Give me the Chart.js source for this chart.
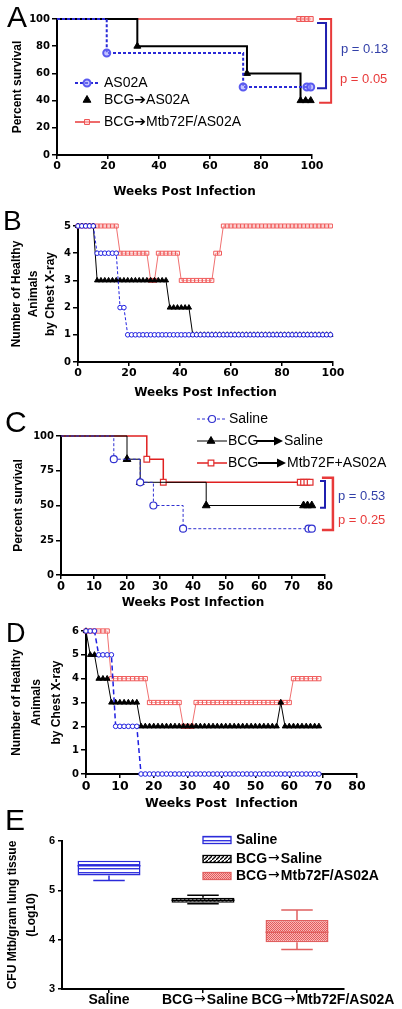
<!DOCTYPE html>
<html>
<head>
<meta charset="utf-8">
<title>Survival, chest X-ray and CFU</title>
<script src="https://cdn.jsdelivr.net/npm/chart.js@4"></script>
<style>
  body { margin: 0; background: #fff; }
  #fig { position: relative; width: 402px; height: 1009px; overflow: hidden; }
  #fig canvas { position: absolute; left: 0; }
</style>
</head>
<body>
<div id="fig">
  <canvas id="chartA" width="402" height="205" style="top:0px"></canvas>
  <canvas id="chartB" width="402" height="205" style="top:200px"></canvas>
  <canvas id="chartC" width="402" height="210" style="top:405px"></canvas>
  <canvas id="chartD" width="402" height="200" style="top:612px"></canvas>
  <canvas id="chartE" width="402" height="201" style="top:808px"></canvas>
</div>
<script>
// ---- A: percent survival (Kaplan-Meier), weeks post infection
var aWeeksAS02A = [0, 19.5, 73, 98, 99.5];
var aPctAS02A   = [100, 75, 50, 50, 50];
var aWeeksBcg   = [0, 31.5, 74.5, 95.5, 97.5, 99.5];
var aPctBcg     = [100, 80, 60, 40, 40, 40];
var aWeeksMtb   = [0, 95, 96.5, 98, 99.5];
var aPctMtb     = [100, 100, 100, 100, 100];

// ---- B: healthy animals by chest X-ray
var bWeeks = [0,1.5,3,4.5,6,7.5,9,10.5,12,13.5,15,16.5,18,19.5,21,22.5,24,25.5,27,28.5,
              30,31.5,33,34.5,36,37.5,39,40.5,42,43.5,45,46.5,48,49.5,51,52.5,54,55.5,57,58.5,
              60,61.5,63,64.5,66,67.5,69,70.5,72,73.5,75,76.5,78,79.5,81,82.5,84,85.5,87,88.5,
              90,91.5,93,94.5,96,97.5,99];
var bAS02A = [5,5,5,5,5,4,4,4,4,4,4,2,2,1,1,1,1,1,1,1,
              1,1,1,1,1,1,1,1,1,1,1,1,1,1,1,1,1,1,1,1,
              1,1,1,1,1,1,1,1,1,1,1,1,1,1,1,1,1,1,1,1,
              1,1,1,1,1,1,1];
var bBcg   = [5,5,5,5,5,3,3,3,3,3,3,3,3,3,3,3,3,3,3,3,
              3,3,3,3,2,2,2,2,2,2,1,1,1,1,1,1,1,1,1,1,
              1,1,1,1,1,1,1,1,1,1,1,1,1,1,1,1,1,1,1,1,
              1,1,1,1,1,1,1];
var bMtb   = [5,5,5,5,5,5,5,5,5,5,5,4,4,4,4,4,4,4,4,3,
              3,4,4,4,4,4,4,3,3,3,3,3,3,3,3,3,4,4,5,5,
              5,5,5,5,5,5,5,5,5,5,5,5,5,5,5,5,5,5,5,5,
              5,5,5,5,5,5,5];

// ---- C: percent survival, second study
var cWeeksSal    = [0, 16, 24, 28, 37, 75, 76];
var cPctSal      = [100, 83.3, 66.7, 50, 33.3, 33.3, 33.3];
var cWeeksBcgSal = [0, 20, 24, 44, 73.5, 74.7, 76];
var cPctBcgSal   = [100, 83.3, 66.7, 50, 50, 50, 50];
var cWeeksMtb    = [0, 26, 31, 72.5, 73.5, 74.5, 75.5];
var cPctMtb      = [100, 83.3, 66.7, 66.7, 66.7, 66.7, 66.7];

// ---- D: healthy animals by chest X-ray, second study
var dWeeks = [0,1.25,2.5,3.75,5,6.25,7.5,8.75,10,11.25,12.5,13.75,15,16.25,17.5,18.75,20,21.25,22.5,23.75,
              25,26.25,27.5,28.75,30,31.25,32.5,33.75,35,36.25,37.5,38.75,40,41.25,42.5,43.75,45,46.25,47.5,48.75,
              50,51.25,52.5,53.75,55,56.25,57.5,58.75,60,61.25,62.5,63.75,65,66.25,67.5,68.75];
var dSaline = [6,6,6,5,5,5,5,2,2,2,2,2,2,0,0,0,0,0,0,0,
               0,0,0,0,0,0,0,0,0,0,0,0,0,0,0,0,0,0,0,0,
               0,0,0,0,0,0,0,0,0,0,0,0,0,0,0,0];
var dBcgSal = [6,5,5,4,4,4,3,3,3,3,3,3,3,2,2,2,2,2,2,2,
               2,2,2,2,2,2,2,2,2,2,2,2,2,2,2,2,2,2,2,2,
               2,2,2,2,2,2,3,2,2,2,2,2,2,2,2,2];
var dMtb    = [6,6,6,6,6,6,4,4,4,4,4,4,4,4,4,3,3,3,3,3,
               3,3,3,2,2,2,3,3,3,3,3,3,3,3,3,3,3,3,3,3,
               3,3,3,3,3,3,3,3,3,4,4,4,4,4,4,4];

// ---- E: lung CFU box plots (log10)
var eGroups = ['Saline', 'BCG\u2192Saline', 'BCG\u2192Mtb72F/AS02A'];
var eMin = [5.2, 4.73, 3.8];
var eQ1  = [5.3, 4.75, 3.95];
var eMed = [5.5, 4.8, 4.15];
var eQ3  = [5.6, 4.85, 4.4];
var eMax = [5.6, 4.9, 4.6];

var SANS = "'Liberation Sans', Arial, sans-serif";
var WIDE = "'DejaVu Sans', Verdana, sans-serif";
var BLUE = '#2a2ad6', RED = '#e83a3a';

Chart.defaults.font.family = SANS;
Chart.defaults.color = '#000';

function pts(xs, ys) {
  return xs.map(function (x, i) { return { x: x, y: ys[i] }; });
}
// no marker on the starting point of a survival curve
function kmRadius(r) {
  return function (ctx) { return ctx.dataIndex === 0 ? 0 : r; };
}

function yAxis(min, max, step, width, tickSize, title) {
  return {
    type: 'linear', min: min, max: max,
    border: { color: '#000', width: 2 },
    grid: { drawOnChartArea: false, color: '#000', lineWidth: 1.5, tickLength: 5 },
    ticks: { stepSize: step, color: '#000', padding: 2, font: { family: WIDE, weight: 'bold', size: tickSize } },
    title: title,
    afterFit: function (s) { s.width = width; }
  };
}
function xAxis(min, max, step, height, tickSize, title) {
  return {
    type: 'linear', min: min, max: max,
    border: { color: '#000', width: 2 },
    grid: { drawOnChartArea: false, color: '#000', lineWidth: 1.5, tickLength: 4 },
    ticks: { stepSize: step, color: '#000', padding: 1, maxRotation: 0, font: { family: WIDE, weight: 'bold', size: tickSize } },
    title: title,
    afterFit: function (s) { s.height = height; }
  };
}
function yTitle(text, size, lh, padTop) {
  return { display: true, text: text, color: '#000', padding: { top: padTop, bottom: 0 },
           font: { family: SANS, weight: 'bold', size: size, lineHeight: lh + 'px' } };
}
function xTitle(text, size, padBottom) {
  return { display: true, text: text, color: '#000', padding: { top: 0, bottom: padBottom },
           font: { family: WIDE, weight: 'bold', size: size } };
}

function drawArrow(ctx, x1, x2, y) {
  ctx.strokeStyle = '#000'; ctx.fillStyle = '#000'; ctx.lineWidth = 2; ctx.setLineDash([]);
  ctx.beginPath(); ctx.moveTo(x1, y); ctx.lineTo(x2 - 7, y); ctx.stroke();
  ctx.beginPath(); ctx.moveTo(x2 - 9, y - 4.5); ctx.lineTo(x2, y); ctx.lineTo(x2 - 9, y + 4.5); ctx.closePath(); ctx.fill();
}

// text with a thin arrow glyph taken from DejaVu, the rest in bold Liberation
function drawArrowText(ctx, text, x, y, align) {
  var parts = text.split('\u2192');
  var fText = 'bold 14px ' + SANS, fArrow = '14px ' + WIDE;
  ctx.font = fArrow; var wa = ctx.measureText('\u2192').width + 2;
  ctx.font = fText;
  var total = 0;
  parts.forEach(function (p, i) { total += ctx.measureText(p).width + (i < parts.length - 1 ? wa : 0); });
  var cx = align === 'center' ? x - total / 2 : x;
  ctx.textAlign = 'left'; ctx.textBaseline = 'middle'; ctx.fillStyle = '#000';
  parts.forEach(function (p, i) {
    ctx.font = fText; ctx.fillText(p, cx, y); cx += ctx.measureText(p).width;
    if (i < parts.length - 1) { ctx.font = fArrow; ctx.fillText('\u2192', cx + 1, y - 1); cx += wa; }
  });
}

// panel letter, legend, brackets and p values
var panelPlugin = {
  id: 'panel',
  afterDraw: function (chart, args, o) {
    var ctx = chart.ctx, xs = chart.scales.x, ys = chart.scales.y;
    ctx.save();
    if (o.letter) {
      ctx.font = o.letter.size + 'px ' + SANS;
      ctx.fillStyle = '#000'; ctx.textAlign = 'left'; ctx.textBaseline = 'alphabetic';
      ctx.fillText(o.letter.text, o.letter.x, o.letter.y);
    }
    (o.brackets || []).forEach(function (b) {
      var x = xs.getPixelForValue(b.x), y1 = ys.getPixelForValue(b.top), y2 = ys.getPixelForValue(b.bottom);
      ctx.strokeStyle = b.color; ctx.lineWidth = b.width; ctx.setLineDash([]);
      ctx.beginPath(); ctx.moveTo(x - b.tick, y1); ctx.lineTo(x, y1); ctx.lineTo(x, y2); ctx.lineTo(x - b.tick, y2);
      ctx.stroke();
    });
    (o.texts || []).forEach(function (t) {
      ctx.font = t.size + 'px ' + SANS; ctx.fillStyle = t.color;
      ctx.textAlign = 'left'; ctx.textBaseline = 'middle';
      ctx.fillText(t.text, t.x, t.y);
    });
    (o.legend || []).forEach(function (it) {
      var ds = chart.data.datasets[it.ds];
      if (it.line) {
        ctx.strokeStyle = ds.borderColor; ctx.lineWidth = ds.borderWidth;
        ctx.setLineDash(ds.borderDash || []);
        ctx.beginPath(); ctx.moveTo(it.line[0], it.y); ctx.lineTo(it.line[1], it.y); ctx.stroke();
        ctx.setLineDash([]);
      }
      ctx.fillStyle = ds.pointBackgroundColor; ctx.strokeStyle = ds.pointBorderColor;
      ctx.lineWidth = ds.pointBorderWidth;
      Chart.helpers.drawPoint(ctx, { pointStyle: ds.pointStyle, radius: it.r, rotation: 0, borderWidth: ds.pointBorderWidth }, it.mx, it.y);
      it.parts.forEach(function (p) {
        if (p.arrow) { drawArrow(ctx, p.arrow[0], p.arrow[1], it.y); return; }
        ctx.font = it.size + 'px ' + SANS + ", 'DejaVu Sans'";
        ctx.fillStyle = '#000'; ctx.textAlign = 'left'; ctx.textBaseline = 'middle';
        ctx.fillText(p.t, p.x, it.y + 0.5);
      });
    });
    ctx.restore();
  }
};

function baseOptions(pad) {
  return {
    responsive: false, animation: false, devicePixelRatio: 1,
    layout: { padding: pad },
    plugins: { legend: { display: false }, tooltip: { enabled: false } }
  };
}

// ---------- A ----------
var optA = baseOptions({ left: 0, top: 19, right: 90, bottom: 0 });
optA.scales = {
  x: xAxis(0, 100, 10, 50, 11, xTitle('Weeks Post Infection', 12, 6)),
  y: yAxis(0, 100, 20, 57, 10, yTitle('Percent survival', 12, 14.4, 10))
};
optA.plugins.panel = {
  letter: { text: 'A', x: 7, y: 27, size: 30 },
  brackets: [
    { x: 105.5, top: 97, bottom: 49, tick: 9, color: '#2020b0', width: 2 },
    { x: 107.5, top: 100, bottom: 38.5, tick: 12, color: RED, width: 2 }
  ],
  texts: [
    { text: 'p = 0.13', x: 341, y: 49, size: 13, color: '#3340a8' },
    { text: 'p = 0.05', x: 340, y: 79, size: 13, color: RED }
  ],
  legend: [
    { ds: 0, y: 83, line: [75, 100], mx: 87, r: 3.5, size: 14, parts: [{ t: 'AS02A', x: 104 }] },
    { ds: 1, y: 100, line: null, mx: 87, r: 4.5, size: 14, parts: [{ t: 'BCG\u2794AS02A', x: 104 }] },
    { ds: 2, y: 122, line: [75, 100], mx: 87, r: 3.5, size: 14, parts: [{ t: 'BCG\u2794Mtb72F/AS02A', x: 104 }] }
  ]
};
new Chart(document.getElementById('chartA'), {
  type: 'line',
  data: { datasets: [
    { label: 'AS02A', data: pts(aWeeksAS02A, aPctAS02A), stepped: 'before', clip: false,
      borderColor: BLUE, borderWidth: 2, borderDash: [3, 2],
      pointStyle: 'circle', pointRadius: kmRadius(3.5), pointBorderWidth: 2,
      pointBorderColor: '#5a5af0', pointBackgroundColor: 'rgba(150,150,255,0.55)' },
    { label: 'BCG\u2192AS02A', data: pts(aWeeksBcg, aPctBcg), stepped: 'before', clip: false,
      borderColor: '#000', borderWidth: 2,
      pointStyle: 'triangle', pointRadius: kmRadius(4), pointBorderWidth: 1,
      pointBorderColor: '#000', pointBackgroundColor: '#000' },
    { label: 'BCG\u2192Mtb72F/AS02A', data: pts(aWeeksMtb, aPctMtb), stepped: 'before', clip: false,
      borderColor: RED, borderWidth: 1.5,
      pointStyle: 'rect', pointRadius: kmRadius(3.5), pointBorderWidth: 1,
      pointBorderColor: '#ee5555', pointBackgroundColor: 'rgba(255,200,200,0.6)' }
  ] },
  options: optA,
  plugins: [panelPlugin]
});

// ---------- B ----------
var optB = baseOptions({ left: 0, top: 26, right: 69, bottom: 0 });
optB.scales = {
  x: xAxis(0, 100, 10, 43, 11, xTitle('Weeks Post Infection', 12, 5)),
  y: yAxis(0, 5, 1, 78, 10, yTitle(['Number of Healthy', 'Animals', 'by Chest X-ray'], 12, 17, 8.5))
};
optB.plugins.panel = { letter: { text: 'B', x: 3, y: 30, size: 28 } };
new Chart(document.getElementById('chartB'), {
  type: 'line',
  data: { datasets: [
    { label: 'AS02A', data: pts(bWeeks, bAS02A), clip: false,
      borderColor: '#2020e0', borderWidth: 1, borderDash: [3, 2],
      pointStyle: 'circle', pointRadius: 2.3, pointBorderWidth: 1,
      pointBorderColor: '#2020e0', pointBackgroundColor: '#fff' },
    { label: 'BCG\u2192AS02A', data: pts(bWeeks, bBcg), clip: false,
      borderColor: '#000', borderWidth: 1,
      pointStyle: 'triangle', pointRadius: 3, pointBorderWidth: 1,
      pointBorderColor: '#000', pointBackgroundColor: '#000' },
    { label: 'BCG\u2192Mtb72F/AS02A', data: pts(bWeeks, bMtb), clip: false,
      borderColor: '#f07070', borderWidth: 1,
      pointStyle: 'rect', pointRadius: 2.8, pointBorderWidth: 1,
      pointBorderColor: '#f05a5a', pointBackgroundColor: 'rgba(255,255,255,0.3)' }
  ] },
  options: optB,
  plugins: [panelPlugin]
});

// ---------- C ----------
var optC = baseOptions({ left: 0, top: 31, right: 77, bottom: 0 });
optC.scales = {
  x: xAxis(0, 80, 10, 40, 11.5, xTitle('Weeks Post Infection', 12, 5)),
  y: yAxis(0, 100, 25, 61, 10, yTitle('Percent survival', 12, 14.4, 11))
};
optC.plugins.panel = {
  letter: { text: 'C', x: 5, y: 27, size: 30 },
  brackets: [
    { x: 80, top: 67.6, bottom: 48.4, tick: 5, color: '#2020b0', width: 2 },
    { x: 82.4, top: 70, bottom: 32.4, tick: 11, color: RED, width: 2.5 }
  ],
  texts: [
    { text: 'p = 0.53', x: 338, y: 91, size: 13, color: '#3340a8' },
    { text: 'p = 0.25', x: 338, y: 115, size: 13, color: RED }
  ],
  legend: [
    { ds: 0, y: 14, line: [197, 227], mx: 212, r: 3.5, size: 14, parts: [{ t: 'Saline', x: 229 }] },
    { ds: 1, y: 36, line: [197, 227], mx: 211, r: 4.5, size: 14,
      parts: [{ t: 'BCG', x: 228 }, { arrow: [257, 283] }, { t: 'Saline', x: 284 }] },
    { ds: 2, y: 58, line: [197, 227], mx: 211, r: 4, size: 14,
      parts: [{ t: 'BCG', x: 228 }, { arrow: [258, 286] }, { t: 'Mtb72F+AS02A', x: 287 }] }
  ]
};
new Chart(document.getElementById('chartC'), {
  type: 'line',
  data: { datasets: [
    { label: 'Saline', data: pts(cWeeksSal, cPctSal), stepped: 'before', clip: false,
      borderColor: '#3030d0', borderWidth: 1, borderDash: [3, 2],
      pointStyle: 'circle', pointRadius: kmRadius(3.5), pointBorderWidth: 1.2,
      pointBorderColor: '#3030d0', pointBackgroundColor: '#fff' },
    { label: 'BCG\u2192Saline', data: pts(cWeeksBcgSal, cPctBcgSal), stepped: 'before', clip: false,
      borderColor: '#000', borderWidth: 1,
      pointStyle: 'triangle', pointRadius: kmRadius(4.5), pointBorderWidth: 1,
      pointBorderColor: '#000', pointBackgroundColor: '#000' },
    { label: 'BCG\u2192Mtb72F+AS02A', data: pts(cWeeksMtb, cPctMtb), stepped: 'before', clip: false,
      borderColor: '#e02020', borderWidth: 1.5,
      pointStyle: 'rect', pointRadius: kmRadius(4), pointBorderWidth: 1.2,
      pointBorderColor: '#e03030', pointBackgroundColor: '#fff' }
  ] },
  options: optC,
  plugins: [panelPlugin]
});

// ---------- D ----------
var optD = baseOptions({ left: 0, top: 19, right: 45, bottom: 0 });
optD.scales = {
  x: xAxis(0, 80, 10, 38, 12.5, xTitle('Weeks Post  Infection', 12.5, 1)),
  y: yAxis(0, 6, 1, 86, 10, yTitle(['Number of Healthy', 'Animals', 'by Chest X-ray'], 12, 20, 7))
};
optD.plugins.panel = { letter: { text: 'D', x: 6, y: 30, size: 27 } };
new Chart(document.getElementById('chartD'), {
  type: 'line',
  data: { datasets: [
    { label: 'Saline', data: pts(dWeeks, dSaline), clip: false,
      borderColor: '#2020e0', borderWidth: 1.5, borderDash: [5, 3],
      pointStyle: 'circle', pointRadius: 2.3, pointBorderWidth: 1,
      pointBorderColor: '#2020e0', pointBackgroundColor: '#fff' },
    { label: 'BCG\u2192Saline', data: pts(dWeeks, dBcgSal), clip: false,
      borderColor: '#000', borderWidth: 1,
      pointStyle: 'triangle', pointRadius: 3.2, pointBorderWidth: 1,
      pointBorderColor: '#000', pointBackgroundColor: '#000' },
    { label: 'BCG\u2192Mtb72F+AS02A', data: pts(dWeeks, dMtb), clip: false,
      borderColor: '#f07070', borderWidth: 1,
      pointStyle: 'rect', pointRadius: 3, pointBorderWidth: 1,
      pointBorderColor: '#f05a5a', pointBackgroundColor: 'rgba(255,255,255,0.3)' }
  ] },
  options: optD,
  plugins: [panelPlugin]
});

// ---------- E ----------
function makePattern(kind) {
  var c = document.createElement('canvas'), g = c.getContext('2d');
  if (kind === 'stripes') {
    c.width = 4; c.height = 4;
    g.fillStyle = '#fff'; g.fillRect(0, 0, 4, 4);
    g.fillStyle = '#3535e0'; g.fillRect(0, 0, 4, 1.4);
  } else if (kind === 'hatch') {
    c.width = 4; c.height = 4;
    g.fillStyle = '#fff'; g.fillRect(0, 0, 4, 4);
    g.strokeStyle = '#000'; g.lineWidth = 1.3;
    g.beginPath(); g.moveTo(-1, 5); g.lineTo(5, -1); g.stroke();
  } else {
    c.width = 2; c.height = 2;
    g.fillStyle = '#f7b8b8'; g.fillRect(0, 0, 2, 2);
    g.fillStyle = '#e45a5a'; g.fillRect(0, 0, 1, 1); g.fillRect(1, 1, 1, 1);
  }
  return g.createPattern(c, 'repeat');
}
var eFill = [makePattern('stripes'), makePattern('hatch'), makePattern('check')];
var eEdge = ['#2b2bd9', '#000', '#e06060'];

var boxPlugin = {
  id: 'boxes',
  afterDatasetsDraw: function (chart) {
    var ctx = chart.ctx, ys = chart.scales.y, meta = chart.getDatasetMeta(0);
    ctx.save();
    meta.data.forEach(function (bar, i) {
      var x = bar.x, half = bar.width / 2, cap = half / 2;
      ctx.strokeStyle = eEdge[i]; ctx.lineWidth = 1.5;
      ctx.beginPath();
      var ym = ys.getPixelForValue(eMed[i]);
      ctx.moveTo(x - half, ym); ctx.lineTo(x + half, ym);
      if (eMax[i] > eQ3[i]) {
        var y3 = ys.getPixelForValue(eQ3[i]), yh = ys.getPixelForValue(eMax[i]);
        ctx.moveTo(x, y3); ctx.lineTo(x, yh); ctx.moveTo(x - cap, yh); ctx.lineTo(x + cap, yh);
      }
      if (eMin[i] < eQ1[i]) {
        var y1 = ys.getPixelForValue(eQ1[i]), yl = ys.getPixelForValue(eMin[i]);
        ctx.moveTo(x, y1); ctx.lineTo(x, yl); ctx.moveTo(x - cap, yl); ctx.lineTo(x + cap, yl);
      }
      ctx.stroke();
    });
    ctx.restore();
  },
  afterDraw: function (chart) {
    var ctx = chart.ctx, xs = chart.scales.x;
    var labelShift = [0, 2, 26];
    ctx.save();
    eGroups.forEach(function (g, i) {
      drawArrowText(ctx, g, xs.getPixelForValue(i) + labelShift[i], 192, 'center');
    });
    // legend
    var legY = [32, 51, 68];
    eGroups.forEach(function (g, i) {
      ctx.fillStyle = eFill[i]; ctx.fillRect(203, legY[i] - 3.5, 28, 7);
      ctx.strokeStyle = eEdge[i]; ctx.lineWidth = 1.3; ctx.strokeRect(203, legY[i] - 3.5, 28, 7);
      drawArrowText(ctx, g, 236, legY[i] + 0.5, 'left');
    });
    ctx.font = '30px ' + SANS; ctx.fillStyle = '#000'; ctx.textAlign = 'left'; ctx.textBaseline = 'alphabetic';
    ctx.fillText('E', 5, 22);
    ctx.restore();
  }
};

var optE = baseOptions({ left: 0, top: 33, right: 58, bottom: 0 });
optE.scales = {
  x: {
    type: 'category', offset: true,
    border: { color: '#000', width: 2 },
    grid: { offset: false, drawOnChartArea: false, color: '#000', lineWidth: 1.5, tickLength: 4 },
    ticks: { display: false, autoSkip: false, maxRotation: 0 },
    afterFit: function (s) { s.height = 20; }
  },
  y: {
    type: 'linear', min: 3, max: 6,
    border: { color: '#000', width: 2 },
    grid: { drawOnChartArea: false, color: '#000', lineWidth: 1.5, tickLength: 4 },
    ticks: { stepSize: 1, color: '#000', padding: 3, font: { family: SANS, weight: 'bold', size: 11 } },
    title: yTitle(['CFU Mtb/gram lung tissue', '(Log10)'], 12, 19, 3),
    afterFit: function (s) { s.width = 62; }
  }
};
new Chart(document.getElementById('chartE'), {
  type: 'bar',
  data: {
    labels: eGroups,
    datasets: [{
      label: 'CFU', data: eQ1.map(function (q, i) { return [q, eQ3[i]]; }),
      backgroundColor: eFill, borderColor: eEdge, borderWidth: 1.5, borderSkipped: false,
      barPercentage: 0.67, categoryPercentage: 1
    }]
  },
  options: optE,
  plugins: [boxPlugin]
});
</script>
</body>
</html>
